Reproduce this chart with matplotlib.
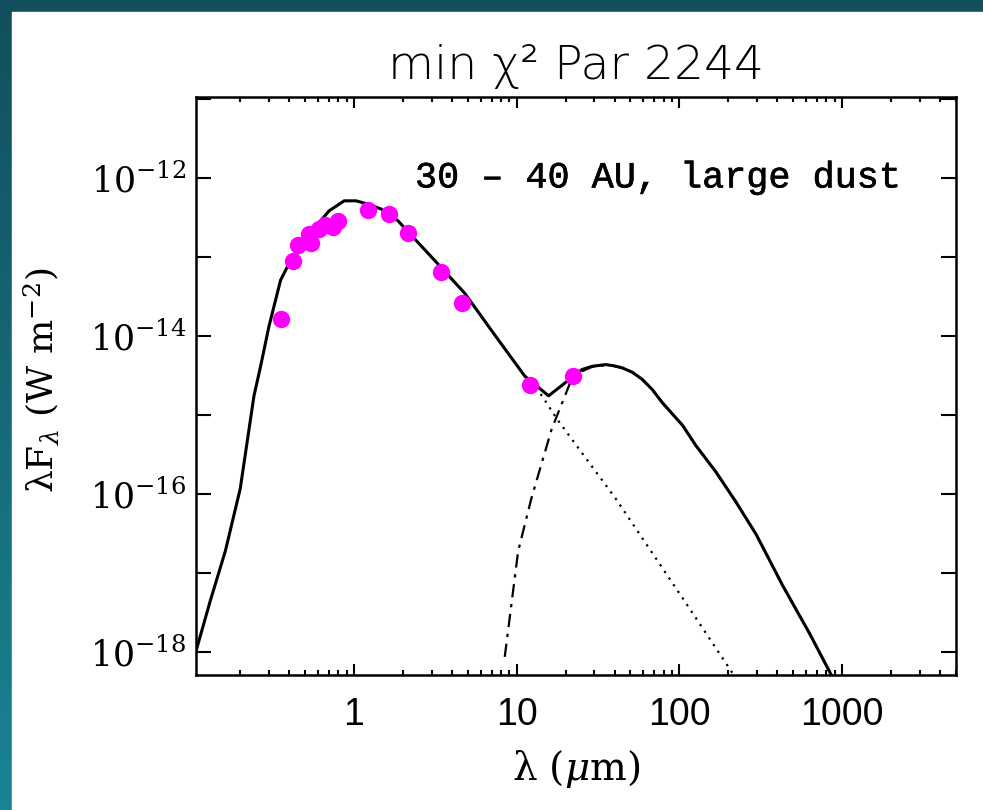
import numpy as np
import matplotlib
matplotlib.use('Agg')
import matplotlib.pyplot as plt
import matplotlib.patheffects as pe
from matplotlib.ticker import FixedLocator, LogLocator, FuncFormatter, NullLocator, NullFormatter

plt.rcParams['mathtext.fontset'] = 'custom'
plt.rcParams['mathtext.rm'] = 'DejaVu Serif'
plt.rcParams['mathtext.it'] = 'DejaVu Serif:italic'

# ---------------- photometry (magenta points) ----------------
phot_wave = [0.358, 0.425, 0.453, 0.543, 0.53, 0.61, 0.662, 0.739, 0.80,
             1.22, 1.65, 2.15, 3.41, 4.62, 12.1, 22.2]
phot_flux = [1.65e-14, 9.1e-14, 1.45e-13, 1.5e-13, 1.95e-13, 2.28e-13, 2.59e-13, 2.45e-13, 2.86e-13,
             3.97e-13, 3.53e-13, 2.06e-13, 6.46e-14, 2.61e-14, 2.42e-15, 3.13e-15]

# ---------------- total model (solid) ----------------
model_wave = [0.108, 0.131, 0.162, 0.200, 0.243, 0.267, 0.300, 0.354, 0.408, 0.471,
              0.625, 0.704, 0.871, 1.03, 1.22, 1.47, 1.86, 2.36, 3.13, 4.80, 7.18, 11.2,
              15.7, 25.2, 29.0, 35.1, 39.7, 44.5, 51.3, 59.1, 68.1, 78.5, 104.4, 126, 167.5,
              222, 296, 432, 632, 859]
model_flux = [1.1e-18, 4.47e-18, 1.9e-17, 1.17e-16, 1.76e-15, 4.19e-15, 1.32e-14,
              5.13e-14, 9.14e-14, 1.48e-13, 2.91e-13, 3.88e-13, 5.19e-13, 5.19e-13, 4.71e-13,
              4.08e-13, 2.91e-13, 1.71e-13, 9.14e-14, 3.49e-14, 1.1e-14, 3.13e-15, 1.76e-15,
              3.79e-15, 4.16e-15, 4.38e-15, 4.22e-15, 3.98e-15, 3.5e-15, 2.84e-15, 2.11e-15,
              1.44e-15, 7.45e-16, 4.14e-16, 1.91e-16, 8.0e-17, 3.09e-17, 6.87e-18, 1.7e-18, 5.07e-19]

# ---------------- stellar photosphere (dotted) ----------------
star_wave = [11.2, 14.3, 17.7, 40.5, 104, 212]
star_flux = [3.13e-15, 1.76e-15, 8.9e-16, 8.83e-17, 4.9e-18, 5.4e-19]

# ---------------- dust (dash-dot) ----------------
dust_wave = [8.44, 10.2, 12.3, 16.4, 21.7, 25.2, 29.0, 35.1, 39.7, 44.5, 51.3, 59.1, 68.1, 78.5,
             104.4, 126, 167.5, 222, 296, 432, 632, 859]
dust_flux = [8.7e-19, 1.89e-17, 8.83e-17, 6.68e-16, 2.84e-15, 3.6e-15, 4.1e-15, 4.3e-15, 4.2e-15,
             3.95e-15, 3.5e-15, 2.84e-15, 2.11e-15, 1.44e-15, 7.45e-16, 4.14e-16, 1.91e-16,
             8.0e-17, 3.09e-17, 6.87e-18, 1.7e-18, 5.07e-19]

y_decades = [-18, -17, -16, -15, -14, -13, -12, -11]
x_labels = [1, 10, 100, 1000]


def ylab(v, p):
    e = int(round(np.log10(v)))
    if e % 2 == 0:
        return r'$10^{%d}$' % e
    return ''


fig = plt.figure(figsize=(9.83, 8.10), dpi=100)

# --- teal frame (gradient on the left strip) ---
bg = fig.add_axes([0, 0, 1, 1])
grad = np.linspace(0, 1, 256).reshape(-1, 1)
cmap = matplotlib.colors.LinearSegmentedColormap.from_list('teal', ['#124f5c', '#1a8494'])
bg.imshow(grad, aspect='auto', cmap=cmap, extent=[0, 1, 0, 1], origin='upper')
bg.add_patch(plt.Rectangle((12 / 983, 0), 1, 1 - 12 / 810, color='white', zorder=2))
bg.set_xlim(0, 1)
bg.set_ylim(0, 1)
bg.axis('off')

ax = fig.add_axes([196 / 983, 1 - 675 / 810, (956 - 196) / 983, (675 - 97) / 810])
ax.set_xscale('log')
ax.set_yscale('log')

ax.plot(star_wave, star_flux, color='black', lw=1.6, linestyle=(0, (1, 2.6)))
ax.plot(dust_wave, dust_flux, color='black', lw=1.6, linestyle=(0, (6, 3, 1.5, 3)))
ax.plot(model_wave, model_flux, color='black', lw=2.2)
ax.plot(phot_wave, phot_flux, 'o', color='#ff00ff', markersize=12.5, markeredgewidth=0, zorder=5)

ax.set_xlim(0.107, 5000)
ax.set_ylim(10 ** -18.29, 10 ** -10.97)

# ticks
ax.yaxis.set_major_locator(FixedLocator([10.0 ** e for e in y_decades]))
ax.yaxis.set_minor_locator(NullLocator())
ax.yaxis.set_major_formatter(FuncFormatter(ylab))
ax.xaxis.set_major_locator(FixedLocator(x_labels))
ax.xaxis.set_major_formatter(FuncFormatter(lambda v, p: '%d' % v))
ax.xaxis.set_minor_locator(LogLocator(base=10, subs=np.arange(2, 10), numticks=20))
ax.xaxis.set_minor_formatter(NullFormatter())

ax.tick_params(which='both', direction='in', top=True, right=True, width=1.5)
ax.tick_params(axis='y', which='major', length=10.8, pad=7, labelsize=25)
ax.tick_params(axis='x', which='major', length=8, pad=16, labelsize=27)
ax.tick_params(axis='x', which='minor', length=3.6)
for lab in ax.get_xticklabels():
    lab.set_family('Liberation Sans')
for s in ax.spines.values():
    s.set_linewidth(1.8)

ax.set_xlabel(r'λ ($\mu$m)', fontsize=28, family='DejaVu Serif', labelpad=11)
ax.set_ylabel(r'λF$_λ$ (W m$^{-2}$)', fontsize=26, family='DejaVu Serif')
ax.yaxis.set_label_coords(-0.178, 0.51)
ax.set_title('min χ² Par 2244', fontsize=34, family='DejaVu Sans', weight='light',
             color='black', pad=13)

ax.text(0.925, 0.86, '30 – 40 AU, large dust', transform=ax.transAxes, ha='right', va='center',
        fontsize=26.5, family='Liberation Mono',
        path_effects=[pe.withStroke(linewidth=0.45, foreground='black')])

fig.savefig('out.png', dpi=100)
